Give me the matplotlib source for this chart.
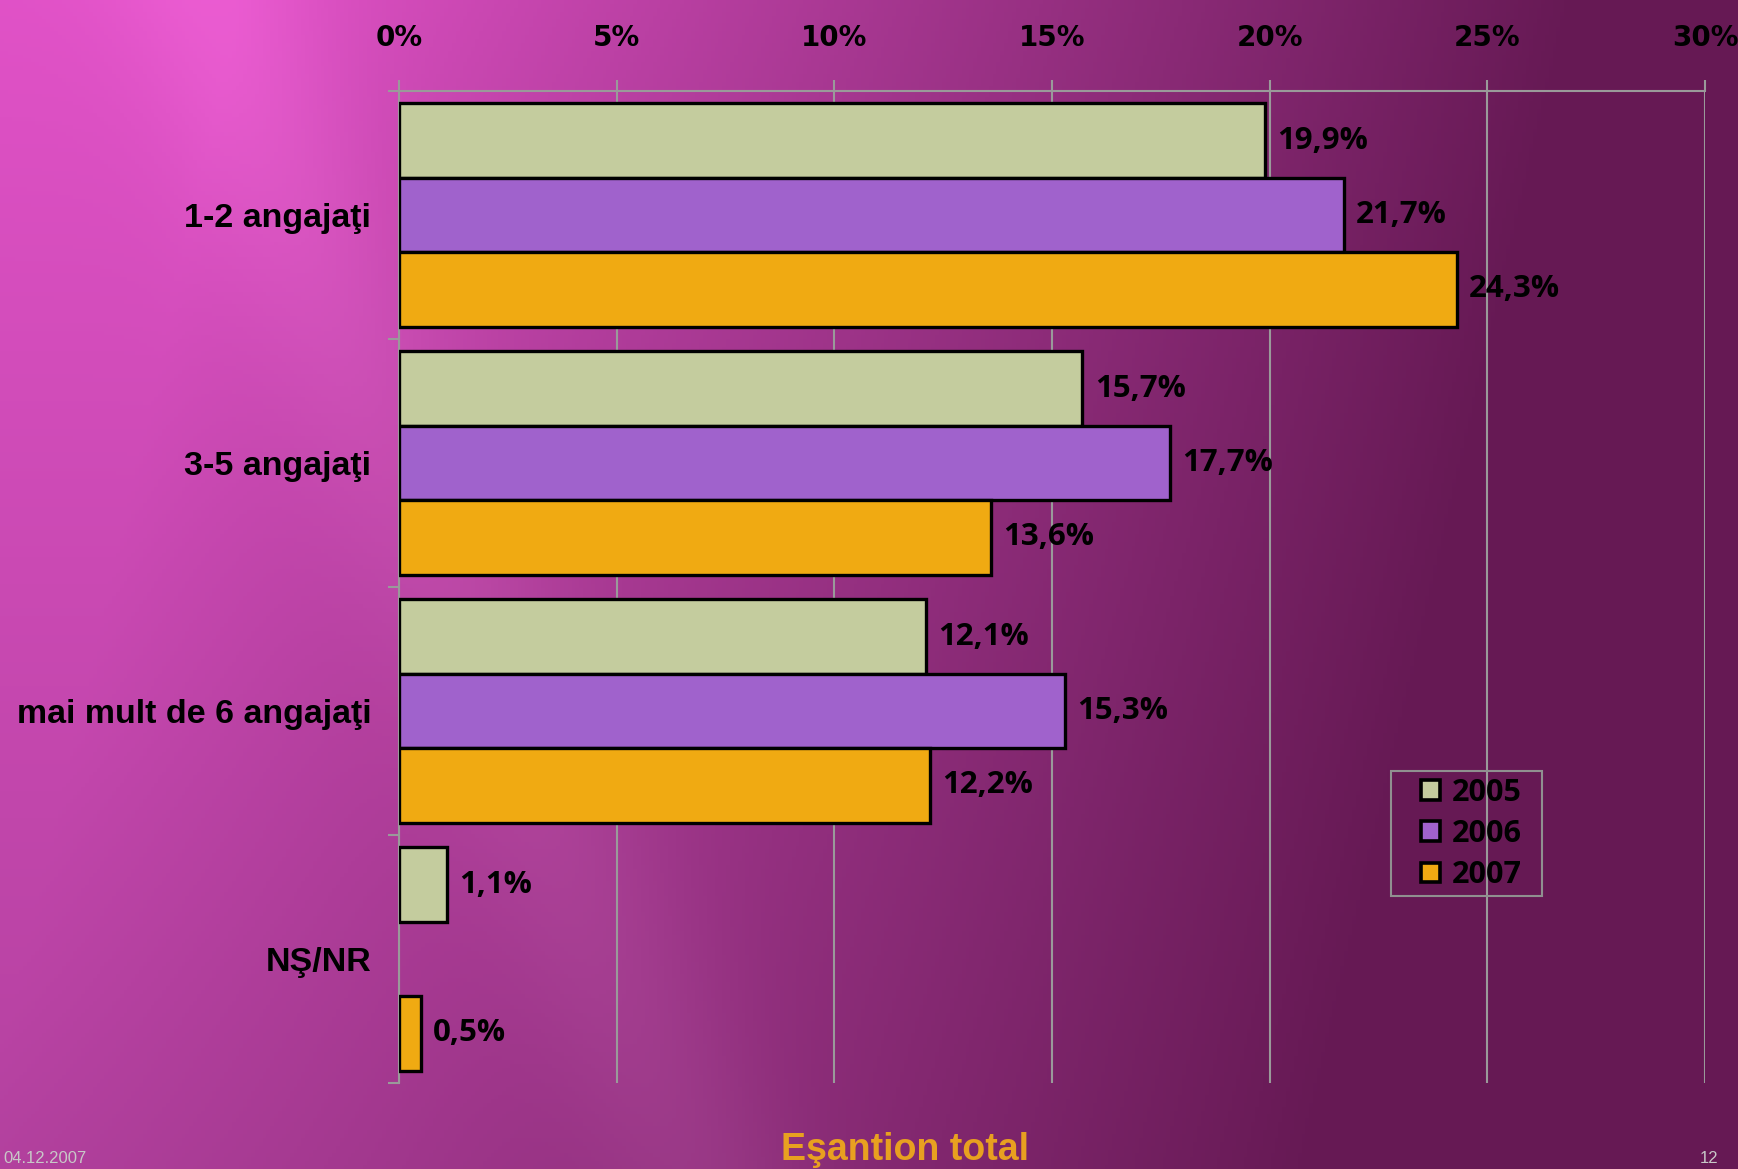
import matplotlib
matplotlib.use('Agg')
import matplotlib.pyplot as plt
import numpy as np
from matplotlib.patches import Patch, Rectangle

# --- data ---
categories = ['1-2 angajaţi', '3-5 angajaţi', 'mai mult de 6 angajaţi', 'NŞ/NR']
years = ['2005', '2006', '2007']
v2005 = [19.9, 15.7, 12.1, 1.1]
v2006 = [21.7, 17.7, 15.3, None]
v2007 = [24.3, 13.6, 12.2, 0.5]
x_ticks = [0, 5, 10, 15, 20, 25, 30]

series = [v2005, v2006, v2007]
colors = ['#c4cc9e', '#a062cc', '#f0aa12']

W, H = 1738, 1169
fig = plt.figure(figsize=(W / 100, H / 100), dpi=100)

# --- background gradient ---
bg = fig.add_axes([0, 0, 1, 1], zorder=0)
yy, xx = np.mgrid[0:1:300j, 0:1:450j]
t = np.clip(xx * 1.3 + yy * 0.2 - 0.18, 0, 1)
left_top = np.array([0.88, 0.32, 0.78])
right = np.array([0.40, 0.10, 0.33])
c = left_top[None, None, :] * (1 - t[..., None]) + right[None, None, :] * t[..., None]
# darker toward lower left
c *= (1 - 0.2 * yy * (1 - t))[..., None]
# soft diagonal light streak
d = (xx - 0.12) - (yy * 0.28)
c += (0.04 * np.exp(-(d / 0.06) ** 2))[..., None]
bg.imshow(np.clip(c, 0, 1), aspect='auto', extent=[0, 1, 0, 1], origin='upper')
bg.set_axis_off()

# --- bars ---
ax = fig.add_axes([399 / W, 1 - 1083 / H, (1705 - 399) / W, (1083 - 91) / H], zorder=1)
ax.patch.set_alpha(0)

pos = np.arange(len(categories))
h = 0.3
offsets = [-h, 0, h]
for vals, off, col in zip(series, offsets, colors):
    for p, v in zip(pos, vals):
        if v is None:
            continue
        ax.barh(p + off, v, height=h, color=col, edgecolor='black', linewidth=2.4, zorder=3)
        ax.text(v + 0.28, p + off, f"{v:.1f}%".replace('.', ','), va='center', ha='left',
                fontsize=22.5, fontweight='bold', family='Open Sans', color='black', zorder=4)

ax.set_xlim(0, 30)
ax.set_ylim(len(categories) - 0.5, -0.5)

ax.xaxis.tick_top()
ax.set_xticks(x_ticks)
ax.set_xticklabels([f"{t}%" for t in x_ticks], fontsize=20, fontweight='bold',
                   family='DejaVu Sans')
ax.tick_params(axis='x', length=8, width=1.5, color='#9a9a9a', pad=20)
ax.grid(axis='x', color='#9a9a9a', linewidth=1.5, zorder=0)

ax.set_yticks(pos)
ax.set_yticklabels(categories, fontsize=24.5, fontweight='bold', family='Liberation Sans')
ax.tick_params(axis='y', length=0, pad=20)
ax.set_yticks(np.arange(-0.5, len(categories), 1), minor=True)
ax.tick_params(axis='y', which='minor', length=8, width=1.5, color='#9a9a9a')

for s in ['right', 'bottom']:
    ax.spines[s].set_visible(False)
for s in ['top', 'left']:
    ax.spines[s].set_color('#9a9a9a')
    ax.spines[s].set_linewidth(1.5)

# --- legend (box drawn separately) ---
fig.patches.append(Rectangle((1391 / W, 1 - 896 / H), (1542 - 1391) / W, (896 - 771) / H,
                             transform=fig.transFigure, facecolor='none',
                             edgecolor='#909090', linewidth=1.5, zorder=5))
handles = [Patch(facecolor=c_, edgecolor='black', linewidth=2.6, label=y) for c_, y in zip(colors, years)]
leg = fig.legend(handles=handles, loc='center left',
                 bbox_to_anchor=(1421 / W, 1 - 834 / H),
                 prop={'family': 'Open Sans', 'weight': 'bold', 'size': 22},
                 frameon=False, handlelength=0.62, handleheight=0.62,
                 handletextpad=0.4, labelspacing=0.37, borderpad=0, borderaxespad=0)
leg.set_zorder(5)

# --- title and footer ---
fig.text(905 / W, 1 - 1150 / H, 'Eşantion total', ha='center', va='center',
         fontsize=27, fontweight='bold', family='Liberation Sans', color='#e8a020')
fig.text(3 / W, 3 / H, '04.12.2007', ha='left', va='bottom',
         fontsize=12, color='#c8c8c8', family='Liberation Sans')
fig.text(1718 / W, 3 / H, '12', ha='right', va='bottom',
         fontsize=12, color='#c8c8c8', family='Liberation Sans')

fig.savefig('out.png', dpi=100)
